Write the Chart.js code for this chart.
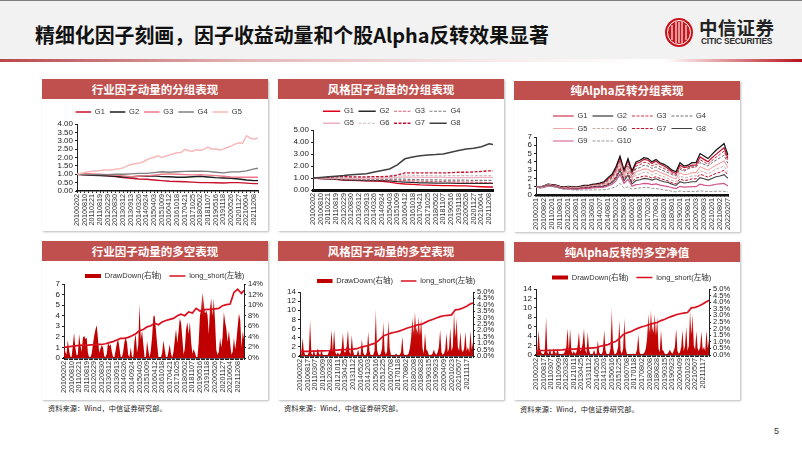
<!doctype html>
<html lang="zh-CN">
<head>
<meta charset="UTF-8" />
<title>精细化因子刻画</title>
<script src="https://cdn.jsdelivr.net/npm/chart.js@4.4.4/dist/chart.umd.min.js"></script>
<style>
  body { margin: 0; width: 802px; height: 451px; position: relative; overflow: hidden; background: #fff;
    font-family: "Noto Sans CJK SC", sans-serif; }
  .top { position: absolute; left: 0; top: 0; width: 802px; height: 59px; background: #f2f2f2; border-top: 1px solid #7f7f7f; box-sizing: border-box; }
  .rule { position: absolute; left: 0; top: 59px; width: 802px; height: 3px;
    background: linear-gradient(90deg, #b9474c 0%, #e3b4b4 30%, #f5e6e6 58%, #fff 80%, #fff 83%, #e29a9d 90%, #b5121b 100%); }
  h1 { position: absolute; left: 35px; top: 20px; margin: 0; font-size: 19.9px; line-height: 30px; font-weight: 700; color: #111; white-space: nowrap; }
  .logo { position: absolute; left: 665px; top: 18px; }
  .cn { position: absolute; left: 699px; top: 15px; font-size: 18.5px; line-height: 24px; font-weight: 700; color: #222; letter-spacing: .3px; white-space: nowrap; }
  .en { position: absolute; left: 701px; top: 37px; font: 700 8.4px/9px "Liberation Sans", sans-serif; color: #2a2a2a; letter-spacing: -.2px; white-space: nowrap; }
  .card { position: absolute; background: #fff; box-shadow: 1px 1px 2px rgba(0,0,0,.28); width: 226px; }
  .card .head { background: #c0504d; color: #fff; text-align: center; font-size: 11.5px; font-weight: 700; }
  .card canvas { display: block; }
  .src { position: absolute; font-size: 7.2px; line-height: 10px; color: #222; letter-spacing: .05px; white-space: nowrap; }
  .page { position: absolute; left: 774px; top: 425px; font: 9px/12px "Liberation Sans", sans-serif; color: #333; }
</style>
</head>
<body>
  <div class="top"></div>
  <div class="rule"></div>
  <h1>精细化因子刻画，因子收益动量和个股Alpha反转效果显著</h1>
  <svg class="logo" width="28" height="29" viewBox="0 0 28 29">
    <ellipse cx="14" cy="14.5" rx="14" ry="14.5" fill="#c8161d" />
    <ellipse cx="14" cy="14.5" rx="11.5" ry="12" fill="none" stroke="#fff" stroke-width="1" />
    <path d="M7 7v15M11 4v21M14 4v21M17 4v21M21 7v15" stroke="#fff" stroke-width="1.1" fill="none" />
  </svg>
  <div class="cn">中信证券</div>
  <div class="en">CITIC SECURITIES</div>

  <div class="card" style="left:42px;top:79px"><div class="head" style="height:20px;line-height:20px">行业因子动量的分组表现</div><canvas id="c1" width="226" height="132"></canvas></div>
  <div class="card" style="left:278px;top:79px"><div class="head" style="height:20px;line-height:20px">风格因子动量的分组表现</div><canvas id="c2" width="226" height="132"></canvas></div>
  <div class="card" style="left:514px;top:81px"><div class="head" style="height:19px;line-height:19px">纯Alpha反转分组表现</div><canvas id="c3" width="226" height="132"></canvas></div>
  <div class="card" style="left:42px;top:241px"><div class="head" style="height:20px;line-height:20px">行业因子动量的多空表现</div><canvas id="c4" width="226" height="139"></canvas></div>
  <div class="card" style="left:278px;top:241px"><div class="head" style="height:20px;line-height:20px">风格因子动量的多空表现</div><canvas id="c5" width="226" height="139"></canvas></div>
  <div class="card" style="left:514px;top:242px"><div class="head" style="height:20px;line-height:20px">纯Alpha反转的多空净值</div><canvas id="c6" width="226" height="138"></canvas></div>

  <div class="src" style="left:48px;top:403px">资料来源：Wind，中信证券研究部。</div>
  <div class="src" style="left:284px;top:403px">资料来源：Wind，中信证券研究部。</div>
  <div class="src" style="left:520px;top:404px">资料来源：Wind，中信证券研究部。</div>
  <div class="page">5</div>

<script>
const ticksA = ['20100202','20100810','20110221','20110819','20120229','20120830','20130312','20130913','20140326','20140924','20150403','20151009','20160412','20161018','20170421','20171025','20180502','20181107','20190516','20191118','20200526','20201127','20210604','20211208'];
const ticksB = ['20100201','20100802','20110201','20110801','20120201','20120801','20130301','20130801','20140207','20140801','20150202','20150803','20160201','20160801','20170203','20170801','20180201','20180801','20190201','20190801','20200203','20200803','20210201','20210802','20220207'];
const ticksC = ['20100202','20100817','20110307','20110909','20120328','20121011','20130425','20131112','20140526','20141203','20150616','20151225','20160708','20170118','20170802','20180208','20180828','20190315','20190923','20200409','20201023','20210507','20211117'];

// 行业因子动量 分组 (G5 every half tick, the rest once per tick)
const ind1 = [1.0,.97,.95,.93,.9,.86,.8,.76,.72,.7,.66,.62,.58,.57,.55,.53,.5,.5,.49,.48,.5,.5,.47,.44,.44];
const ind2 = [1.0,.97,.94,.92,.9,.88,.84,.84,.88,.88,.9,.86,.85,.82,.82,.85,.88,.84,.8,.78,.76,.72,.66,.62,.62];
const ind3 = [1.0,1.05,1.02,1.0,.98,.95,.9,.85,.88,.9,.95,1.0,1.02,1.0,.98,.96,.98,.95,.92,.88,.84,.82,.82,.82,.82];
const ind4 = [1.0,.98,.98,.98,.98,1.0,1.0,1.02,1.05,1.05,1.1,1.15,1.12,1.15,1.17,1.18,1.18,1.17,1.12,1.08,1.14,1.14,1.2,1.32,1.36];
const ind5 = [1.0,1.05,1.1,1.15,1.18,1.2,1.22,1.25,1.25,1.26,1.3,1.33,1.38,1.5,1.58,1.62,1.65,1.72,1.85,1.95,2.02,2.1,2.0,2.08,2.15,2.22,2.28,2.3,2.48,2.4,2.38,2.48,2.42,2.5,2.62,2.5,2.52,2.45,2.5,2.6,2.68,2.8,2.88,2.85,3.3,3.15,3.1,3.15];

// 风格因子动量 分组
const sty1 = [1,.95,.92,.88,.83,.8,.78,.76,.75,.73,.65,.55,.5,.47,.42,.4,.38,.37,.36,.35,.34,.3,.27,.25,.25];
const sty2 = [1,.96,.92,.88,.85,.82,.8,.78,.78,.78,.76,.7,.66,.63,.6,.6,.58,.58,.57,.56,.55,.55,.55,.55,.55];
const sty3 = [1,.98,.95,.93,.9,.87,.86,.85,.84,.84,.84,.82,.78,.76,.74,.72,.7,.7,.68,.67,.66,.65,.63,.62,.62];
const sty4 = [1,.98,.97,.96,.95,.93,.92,.9,.9,.9,.9,.9,.9,.88,.86,.84,.84,.83,.83,.82,.82,.8,.8,.8,.8];
const sty5 = [1,1,1,1,1,.98,.98,.98,.98,1,1.02,1.05,1.1,1.08,1.06,1.05,1.05,1.05,1.03,1.03,1.03,1.03,1.05,1.05,1.05];
const sty6 = [1,1.02,1.03,1.05,1.05,1.05,1.05,1.05,1.05,1.08,1.1,1.15,1.25,1.22,1.2,1.2,1.18,1.18,1.2,1.2,1.2,1.18,1.2,1.2,1.2];
const sty7 = [1,1.02,1.05,1.1,1.12,1.1,1.1,1.1,1.12,1.12,1.15,1.25,1.42,1.42,1.42,1.42,1.42,1.42,1.45,1.48,1.48,1.5,1.55,1.6,1.6];
const sty8 = [1,1.05,1.1,1.15,1.2,1.28,1.32,1.35,1.5,1.62,1.75,2.1,2.6,2.75,2.85,2.92,2.95,3.0,3.15,3.3,3.42,3.48,3.6,3.85,3.8];

// 纯Alpha反转 分组 (every half tick)
const alp1 = [1.0,.95,1.08,1.28,1.22,1.18,1.02,.92,1.02,.98,.93,1.0,1.1,1.1,1.25,1.3,1.4,1.5,1.95,2.3,3.2,4.5,2.9,4.2,2.7,3.8,3.95,4.3,4.2,3.8,4.1,3.7,3.5,3.2,2.8,2.6,3.6,3.3,3.4,3.6,3.6,4.6,4.3,4.0,4.5,4.9,5.3,5.7,4.4];
const alp2 = [1.0,.95,1.1,1.3,1.25,1.2,1.05,.95,1.05,1.0,.95,1.05,1.15,1.15,1.3,1.35,1.45,1.6,2.1,2.5,3.4,4.7,3.0,4.4,2.9,4.0,4.2,4.5,4.4,4.0,4.3,3.9,3.7,3.4,3.0,2.8,3.9,3.5,3.6,3.9,3.9,5.0,4.7,4.4,4.9,5.4,5.8,6.2,4.8];
const alp3 = [1.0,.93,1.06,1.26,1.2,1.16,1,.9,1,.96,.9,.98,1.08,1.08,1.2,1.25,1.32,1.42,1.8,2.15,3.0,4.2,2.7,3.9,2.4,3.5,3.65,3.95,3.85,3.5,3.75,3.4,3.2,2.95,2.6,2.4,3.3,3.0,3.15,3.35,3.35,4.25,4.0,3.7,4.15,4.55,4.9,5.3,4.1];
const alp4 = [1.0,.92,1.05,1.25,1.18,1.14,.98,.88,.98,.94,.88,.95,1.05,1.05,1.15,1.2,1.28,1.35,1.7,2.0,2.8,4.0,2.5,3.6,2.2,3.2,3.3,3.6,3.5,3.2,3.4,3.1,2.9,2.7,2.45,2.3,3.1,2.85,3.2,3.5,3.4,3.9,3.7,3.5,3.9,4.2,4.5,4.8,3.8];
const alp5 = [1.0,.92,1.04,1.22,1.16,1.1,.95,.85,.94,.9,.85,.92,1.0,1.0,1.1,1.15,1.2,1.28,1.55,1.85,2.6,3.8,2.3,3.3,2.0,2.8,2.95,3.15,3.1,2.8,3.0,2.75,2.55,2.35,2.1,1.95,2.7,2.45,2.5,2.7,2.7,3.4,3.2,3.0,3.3,3.6,3.85,4.1,3.3];
const alp6 = [1.0,.9,1.02,1.2,1.14,1.08,.92,.82,.9,.86,.8,.88,.95,.95,1.05,1.08,1.12,1.2,1.45,1.7,2.35,3.5,2.1,3.0,1.8,2.4,2.55,2.75,2.7,2.4,2.6,2.35,2.2,2.0,1.75,1.6,2.3,2.1,2.15,2.3,2.3,2.95,2.75,2.55,2.85,3.1,3.3,3.5,2.8];
const alp7 = [1.0,.9,1.0,1.18,1.12,1.05,.9,.8,.86,.82,.76,.84,.9,.9,1.0,1.02,1.06,1.12,1.35,1.6,2.2,3.3,1.9,2.7,1.55,2.05,2.15,2.3,2.25,2.05,2.2,2.0,1.85,1.7,1.45,1.35,1.95,1.75,1.8,1.95,1.95,2.5,2.35,2.15,2.4,2.6,2.75,3.0,2.4];
const alp8 = [1.0,.88,.98,1.15,1.1,1.02,.88,.78,.82,.78,.72,.8,.85,.85,.95,.98,1,1.05,1.25,1.5,2.0,3.0,1.7,2.4,1.35,1.75,1.85,2.0,1.95,1.8,1.95,1.75,1.6,1.5,1.3,1.15,1.6,1.45,1.5,1.6,1.6,2.1,1.95,1.8,2.0,2.2,2.3,2.45,2.0];
const alp9 = [1.0,.86,.95,1.1,1.05,.98,.84,.74,.76,.72,.68,.74,.78,.78,.85,.88,.92,.95,1.1,1.3,1.7,2.5,1.4,1.9,1.05,1.25,1.3,1.4,1.38,1.25,1.35,1.2,1.1,1.02,.88,.78,1.05,.95,.97,1.0,1.0,1.3,1.2,1.12,1.2,1.3,1.35,1.4,1.1];
const alp10 = [1.0,.84,.92,1.05,1.0,.92,.78,.68,.68,.62,.58,.6,.62,.6,.62,.62,.62,.64,.7,.85,1.0,1.4,.8,1.0,.7,.8,.85,.92,.9,.8,.78,.7,.6,.55,.45,.38,.48,.42,.42,.42,.42,.5,.46,.42,.42,.45,.46,.45,.38];

// 多空: DrawDown (%) six samples per tick, long_short every half tick
const indDraw = [
  2.0,1.2,0.6,3.4,1.5,0.3, 0.2,2.2,4.8,2.0,0.5,0.6, 4.5,2.5,1.2,3.8,4.2,3.6, 3.9,1.0,0.1,0.2,0.8,2.6,
  4.2,5.4,6.2,3.6,1.0,1.8, 2.4,2.0,0.3,0.2,0.8,3.0, 2.2,2.6,1.2,0.2,0.1,1.4, 2.8,3.6,2.0,0.3,0.1,1.2,
  3.0,3.9,3.0,0.6,0.2,2.0, 0.3,0.1,3.2,4.6,1.0,2.5, 10.2,3.5,5.2,2.6,0.2,0.1, 3.2,1.4,0.1,1.5,4.0,7.8,
  8.1,5.4,2.6,0.2,0.1,0.1, 1.0,3.3,1.6,0.2,0.1,1.2, 2.6,0.8,0.1,1.2,3.4,5.5, 2.8,5.0,7.5,6.6,3.8,0.6,
  1.8,5.4,6.8,4.5,6.8,3.0, 0.8,1.7,1.0,0.2,0.1,3.0, 8.0,9.5,12.5,10.5,8.4,9.0, 8.2,4.5,9.5,11.3,8.0,11.3,
  7.0,1.5,0.6,1.2,3.8,2.0, 4.0,8.7,6.8,5.5,3.0,5.2, 2.8,0.6,1.2,3.8,1.6,3.4, 6.0,8.4,7.2,2.0,5.0,3.6];
const indLong = [1.0,1.05,1.1,1.15,1.2,1.22,1.2,1.25,1.27,1.3,1.28,1.35,1.45,1.55,1.7,1.85,1.85,1.95,2.1,2.3,2.6,2.7,2.95,3.05,3.3,3.15,3.4,3.55,3.65,3.75,4.0,4.15,4.0,4.35,4.25,4.7,4.45,4.55,4.6,4.6,4.65,4.7,4.95,5.05,5.1,6.2,6.5,6.1,6.4];

const styDraw = [
  0.05,0.1,1.4,0.4,0.1,0.05, 0.05,0.3,2.84,0.2,0.05,0.5, 0.05,0.1,0.6,0.2,0.05,0.5, 0.1,0.05,0.05,0.05,0.1,0.4,
  0.5,2.05,0.3,2.05,0.3,0.1, 0.3,0.1,0.2,0.6,1.8,0.3, 0.3,0.8,2.05,0.4,0.1,1.65, 0.4,0.05,0.05,0.1,0.5,0.05,
  0.1,1.3,0.3,0.05,0.05,0.3, 1.9,0.4,0.05,0.05,0.1,0.4, 3.75,0.5,0.1,0.05,0.2,0.6, 2.7,0.4,0.1,0.4,2.85,0.6,
  0.1,0.05,0.05,0.05,0.2,0.1, 0.05,0.1,0.3,1.5,0.2,0.05, 0.05,0.1,0.2,0.6,1.4,3.0, 1.8,3.5,2.2,1.8,3.1,1.6,
  3.0,0.6,0.2,1.8,0.5,0.4, 0.1,0.05,0.1,0.2,0.5,0.2, 0.1,0.3,0.7,2.05,0.3,0.1, 0.2,0.5,1.8,0.3,0.6,2.2,
  0.4,0.7,3.6,1.4,3.0,0.7, 0.4,1.9,0.5,0.3,0.6,1.9, 0.4,0.7,0.3,2.0,0.5,1.1];
const styLong = [1.0,1.0,1.0,1.05,1.05,1.1,1.1,1.15,1.2,1.3,1.3,1.4,1.4,1.45,1.5,1.6,1.9,2.1,2.3,2.6,2.85,3.6,4.4,4.7,5.0,5.2,5.4,5.7,6.0,6.3,6.5,6.8,6.9,7.3,7.7,8.0,8.3,8.6,8.8,8.9,9.0,10.1,10.2,10.5,10.9,11.4,11.6];

const alpDraw = [
  0.05,0.2,1.9,0.5,0.2,0.05, 0.05,0.3,2.9,0.2,0.05,0.5, 0.1,0.05,0.5,0.2,0.05,0.5, 0.1,0.05,0.05,0.1,0.1,0.3,
  0.6,2.05,0.3,2.0,0.3,0.1, 0.3,0.1,0.2,0.7,1.75,0.3, 0.4,0.9,2.0,0.4,0.1,1.75, 0.4,0.05,0.05,0.1,0.4,0.05,
  0.1,1.1,0.2,0.05,0.05,0.3, 1.9,0.4,0.05,0.05,0.1,0.5, 3.65,0.6,0.1,0.05,0.2,0.6, 2.65,0.3,0.1,0.5,2.8,0.5,
  0.1,0.05,0.05,0.05,0.1,0.1, 0.05,0.1,0.4,1.55,0.2,0.05, 0.05,0.1,0.2,0.5,1.3,3.15, 1.7,3.4,2.1,1.7,3.15,1.5,
  2.9,0.5,0.2,1.9,0.4,0.3, 0.1,0.05,0.1,0.2,0.4,0.2, 0.1,0.3,0.6,2.0,0.3,0.1, 0.2,0.6,1.9,0.3,0.7,2.15,
  0.3,0.7,3.5,1.6,3.15,0.7, 0.4,1.8,0.5,0.3,0.6,1.8, 0.4,0.6,0.3,1.9,0.5,1.2];
const alpLong = [0.9,0.95,0.95,1.0,1.0,1.05,1.05,1.1,1.2,1.25,1.25,1.3,1.35,1.4,1.45,1.5,1.55,1.85,2.05,2.2,2.6,2.85,3.5,4.3,4.7,4.95,5.35,5.7,6.0,6.2,6.5,6.7,6.9,7.3,7.6,7.95,8.25,8.55,8.75,8.9,9.0,10.0,10.1,10.4,10.8,11.3,11.6];

const FONT = '"Liberation Sans", "Noto Sans CJK SC", sans-serif';
const DRAW_RED = '#c00000';
const LINE_RED = '#d8101f';

// only the labelled ticks get text, the samples between them stay blank
function tickCats(ticks, sub, total) {
  const cats = [];
  ticks.forEach((t) => { cats.push(t); for (let i = 1; i < sub; i++) cats.push(''); });
  return total ? cats.slice(0, total) : cats;
}

// series read at a coarser step than the axis; the line spans the gaps
function spread(values, step, total) {
  const out = new Array(total).fill(null);
  values.forEach((v, i) => { out[Math.min(i * step, total - 1)] = v; });
  return out;
}

// legend is left out of the layout and put at a fixed spot in the card
const legendSpot = {
  id: 'legendSpot',
  beforeLayout(chart) {
    const lg = chart.legend;
    const fit = lg.fit;
    lg.fit = function () { fit.call(this); this.height = 0; };
  },
  afterLayout(chart) {
    const s = chart.options.plugins.legendSpot;
    const lg = chart.legend;
    lg.left = s.left; lg.right = s.right; lg.top = s.top; lg.bottom = s.top + 60;
    lg.width = s.right - s.left; lg.height = 60;
  },
};

function legendLabels(chart) {
  return chart.data.datasets.map((d, i) => ({
    text: d.label,
    datasetIndex: i,
    strokeStyle: d.legendColor || d.borderColor,
    fillStyle: d.legendColor || d.borderColor,
    lineWidth: d.legendWidth || d.borderWidth,
    lineDash: d.borderDash || [],
    pointStyle: 'line',
    fontColor: '#333',
  }));
}

function lineSet(label, data, color, width, dash) {
  return { label, data, borderColor: color, borderWidth: width, borderDash: dash || [], backgroundColor: 'transparent',
    pointRadius: 0, tension: 0, spanGaps: true, fill: false, yAxisID: 'y' };
}

function makeChart(id, g) {
  const canvas = document.getElementById(id);
  const scales = {
    x: {
      grid: { display: true, drawOnChartArea: false, tickLength: 2, color: '#222' },
      border: { color: '#111', width: g.xBorder },
      ticks: { autoSkip: false, minRotation: 90, maxRotation: 90, padding: 1, color: '#333', font: { family: FONT, size: 7.2 } },
      afterFit(s) { s.height = canvas.height - g.bottom; },
    },
    y: {
      min: 0, max: g.yMax, position: 'left',
      grid: { drawOnChartArea: false, tickLength: 2, color: '#222' },
      border: { color: '#222' },
      ticks: { stepSize: g.yStep, autoSkip: false, padding: 2, color: '#222', font: { family: FONT, size: 8 },
        callback: (v) => (g.yDigits ? v.toFixed(g.yDigits) : String(v)) },
      afterFit(s) { s.width = g.left; },
    },
  };
  if (g.rMax) {
    scales.y1 = {
      min: 0, max: g.rMax, position: 'right',
      grid: { drawOnChartArea: false, tickLength: 2, color: '#222' },
      border: { color: '#222' },
      ticks: { stepSize: g.rStep, autoSkip: false, padding: 2, color: '#222', font: { family: FONT, size: 7.5 },
        callback: (v) => v.toFixed(g.rDigits) + '%' },
      afterFit(s) { s.width = canvas.width - g.right; },
    };
  }
  return new Chart(canvas, {
    type: 'line',
    data: { labels: g.labels, datasets: g.datasets },
    plugins: [legendSpot],
    options: {
      responsive: false,
      animation: false,
      layout: { padding: { top: g.top, right: g.rMax ? 0 : canvas.width - g.right, left: 0, bottom: 0 } },
      scales,
      plugins: {
        tooltip: { enabled: false },
        legendSpot: { left: g.legendLeft, right: g.legendRight || canvas.width, top: g.legendTop },
        legend: {
          position: 'top',
          align: 'start',
          labels: {
            usePointStyle: true,
            pointStyleWidth: g.legendBox,
            padding: g.legendPad,
            color: '#333',
            font: { family: FONT, size: 7.5 },
            generateLabels: legendLabels,
          },
        },
      },
    },
  });
}

function layered(sets) {
  // later series sit on top, as in the source charts
  sets.forEach((s, i) => { s.order = -i; });
  return sets;
}

const catsA = tickCats(ticksA, 2);
makeChart('c1', {
  labels: catsA, left: 35, right: 216, top: 25, bottom: 92, yMax: 4, yStep: 0.5, yDigits: 2, xBorder: 1.5,
  legendLeft: 28.6, legendTop: 4.25, legendBox: 15.5, legendPad: 5,
  datasets: layered([
    lineSet('G1', spread(ind1, 2, 48), '#c8102e', 1.4),
    lineSet('G2', spread(ind2, 2, 48), '#1c1c1c', 1.4),
    lineSet('G3', spread(ind3, 2, 48), '#ee7a8a', 1.4),
    lineSet('G4', spread(ind4, 2, 48), '#7f7f7f', 1.4),
    lineSet('G5', spread(ind5, 1, 48), '#f7b9b9', 1.5),
  ]),
});

makeChart('c2', {
  labels: catsA, left: 35, right: 215, top: 31, bottom: 91, yMax: 5, yStep: 1, yDigits: 2, xBorder: 3,
  legendLeft: 40.5, legendRight: 215, legendTop: 4, legendBox: 17.25, legendPad: 4.5,
  datasets: layered([
    lineSet('G1', spread(sty1, 2, 48), '#e0001b', 1.3),
    lineSet('G2', spread(sty2, 2, 48), '#2b2b2b', 1.3),
    lineSet('G3', spread(sty3, 2, 48), '#dd5a74', 1.2, [3, 1.5]),
    lineSet('G4', spread(sty4, 2, 48), '#7f7f7f', 1.2, [3, 1.5]),
    lineSet('G5', spread(sty5, 2, 48), '#efb2c2', 1.3),
    lineSet('G6', spread(sty6, 2, 48), '#cbbcbc', 1.2, [3, 1.5]),
    lineSet('G7', spread(sty7, 2, 48), '#c8102e', 1.3, [3, 1.5]),
    lineSet('G8', spread(sty8, 2, 48), '#404040', 1.5),
  ]),
});

makeChart('c3', {
  labels: tickCats(ticksB, 2, 49), left: 22, right: 214, top: 37, bottom: 95, yMax: 7, yStep: 1, xBorder: 2.5,
  legendLeft: 34, legendRight: 225, legendTop: 7.25, legendBox: 20.75, legendPad: 5,
  datasets: layered([
    lineSet('G1', alp1, '#c8102e', 1.2),
    lineSet('G2', alp2, '#111111', 1.2),
    lineSet('G3', alp3, '#d0304a', 1, [3, 1.5]),
    lineSet('G4', alp4, '#707070', 1, [3, 1.5]),
    lineSet('G5', alp5, '#f2a5a5', 1.1),
    lineSet('G6', alp6, '#c8b0b0', 1, [3, 1.5]),
    lineSet('G7', alp7, '#c8102e', 1, [3, 1.5]),
    lineSet('G8', alp8, '#404040', 1.1),
    lineSet('G9', alp9, '#d0558a', 1.2),
    lineSet('G10', alp10, '#999999', 1, [3, 1.5]),
  ]),
});

// the area tips wash out towards pink in the source, dense spikes scaled down
function drawFill(stops) {
  return (ctx) => {
    const a = ctx.chart.chartArea;
    if (!a) return DRAW_RED;
    const grad = ctx.chart.ctx.createLinearGradient(0, a.bottom, 0, a.top);
    stops.forEach(([at, color]) => grad.addColorStop(at, color));
    return grad;
  };
}

function longShortSets(draw, long, total, stops) {
  return [
    { label: 'DrawDown(右轴)', data: draw, borderColor: 'transparent', borderWidth: 0, backgroundColor: drawFill(stops), fill: 'origin',
      pointRadius: 0, tension: 0, yAxisID: 'y1', order: 2, legendWidth: 4, legendColor: DRAW_RED },
    Object.assign(lineSet('long_short(左轴)', spread(long, 3, total), LINE_RED, 1.7), { order: 1 }),
  ];
}

const fadeInd = [[0, '#c00000'], [0.55, '#c00000'], [0.8, '#d33a3a'], [0.95, '#f2b8b8'], [1, '#fbe6e6']];
const fadeSty = [[0, '#c00000'], [0.3, '#c40808'], [0.55, '#d84848'], [0.8, '#f0b4b4'], [1, '#fbe8e8']];

makeChart('c4', {
  labels: tickCats(ticksA, 6), left: 22, right: 202, top: 23, bottom: 97, yMax: 7, yStep: 1, rMax: 14, rStep: 2, rDigits: 0, xBorder: 1.5,
  legendLeft: 35, legendTop: 3.25, legendBox: 16, legendPad: 8,
  datasets: longShortSets(indDraw, indLong, 144, fadeInd),
});

makeChart('c5', {
  labels: tickCats(ticksC, 6), left: 22, right: 195, top: 31, bottom: 95, yMax: 14, yStep: 2, rMax: 5, rStep: 0.5, rDigits: 1, xBorder: 1.5,
  legendLeft: 31, legendTop: 8.25, legendBox: 15.5, legendPad: 8,
  datasets: longShortSets(styDraw, styLong, 138, fadeSty),
});

makeChart('c6', {
  labels: tickCats(ticksC, 6), left: 22, right: 195, top: 27, bottom: 93, yMax: 14, yStep: 2, rMax: 5, rStep: 0.5, rDigits: 1, xBorder: 1.5,
  legendLeft: 30, legendTop: 3.75, legendBox: 16, legendPad: 8,
  datasets: longShortSets(alpDraw, alpLong, 138, fadeSty),
});
</script>
</body>
</html>
